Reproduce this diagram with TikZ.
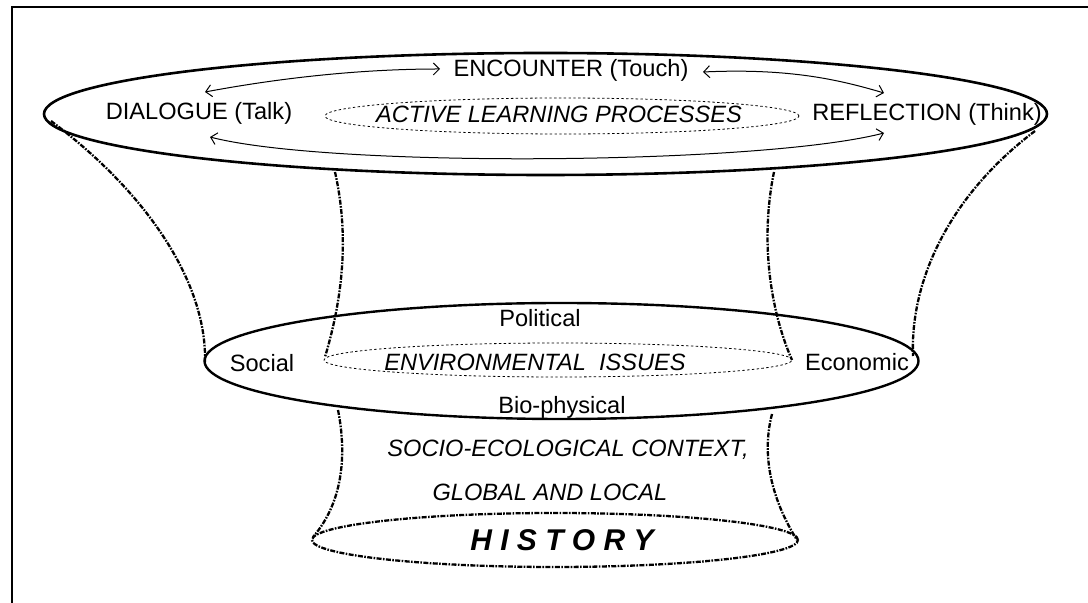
\documentclass[tikz,border=0pt]{standalone}
\usepackage{fontspec}
\setmainfont{Liberation Sans}
\usetikzlibrary{shapes.geometric,arrows.meta}
\begin{document}
\begin{tikzpicture}[x=0.5pt,y=-0.5pt,
  lbl/.style={inner sep=0pt,font=\fontsize{11.8pt}{14pt}\selectfont},
  ital/.style={inner sep=0pt,font=\fontsize{11.8pt}{14pt}\selectfont\itshape},
  solidell/.style={ellipse,draw,line width=1.3pt,inner sep=0pt},
  dotell/.style={ellipse,draw,line width=0.4pt,dash pattern=on 1.2pt off 1.2pt,inner sep=0pt},
  funnel/.style={line width=1.15pt,dash pattern=on 2.5pt off 0.7pt on 0.8pt off 0.7pt},
  histell/.style={ellipse,draw,line width=1.15pt,dash pattern=on 2.5pt off 0.7pt on 0.8pt off 0.7pt,inner sep=0pt},
  biarrow/.style={line width=0.5pt,{Straight Barb[length=3pt,width=6pt]}-{Straight Barb[length=3pt,width=6pt]}},
  framestyle/.style={line width=1pt}
]
\useasboundingbox (0,0) rectangle (1088,603);

% frame
\coordinate (fTL) at (12,7);
\coordinate (fTR) at (1088,7);
\coordinate (fBL) at (12,603);
\draw[framestyle] (fTR) -- (fTL) -- (fBL);

% ellipses
\node[solidell,minimum width=501.5pt,minimum height=61pt] (topE) at (545.5,114) {};
\node[dotell,minimum width=237pt,minimum height=18pt] (topIn) at (562,116) {};
\node[solidell,line width=1.2pt,minimum width=357pt,minimum height=58pt] (midE) at (561.5,361) {};
\node[dotell,minimum width=234pt,minimum height=17pt] (midIn) at (558,360) {};
\node[histell,minimum width=243pt,minimum height=27pt] (histE) at (555,540) {};

% funnel end points
\coordinate (lo1) at (51,121);
\coordinate (lo2) at (205,362);
\coordinate (il1) at (335,172);
\coordinate (il2) at (325,357);
\coordinate (il3) at (338,410);
\coordinate (il4) at (313,537);
\coordinate (ir1) at (774,172);
\coordinate (ir2) at (792,360);
\coordinate (ir3) at (772,414);
\coordinate (ir4) at (797,540);
\coordinate (ro1) at (1035,131);
\coordinate (ro2) at (913,356);

\draw[funnel] (lo1) .. controls (150,195) and (207,285) .. (lo2);
\draw[funnel] (il1) .. controls (348,230) and (345,290) .. (il2);
\draw[funnel] (il3) .. controls (346,450) and (345,500) .. (il4);
\draw[funnel] (ir1) .. controls (760,240) and (770,310) .. (ir2);
\draw[funnel] (ir3) .. controls (760,460) and (775,505) .. (ir4);
\draw[funnel] (ro1) .. controls (950,195) and (910,280) .. (ro2);

% labels
\node[lbl] (enc) at (571,70) {ENCOUNTER (Touch)};
\node[lbl] (dia) at (199,113) {DIALOGUE (Talk)};
\node[ital] (alp) at (559,114) {ACTIVE LEARNING PROCESSES};
\node[lbl] (ref) at (927,114) {REFLECTION (Think)};
\node[lbl] (pol) at (540,318) {Political};
\node[lbl] (soc) at (262,363) {Social};
\node[ital] (env) at (535,362) {ENVIRONMENTAL\ \ ISSUES};
\node[lbl] (eco) at (857,362) {Economic};
\node[lbl] (bio) at (562,407) {Bio-physical};
\node[ital] (sec) at (568,450) {SOCIO-ECOLOGICAL CONTEXT,};
\node[ital] (gal) at (550,492) {GLOBAL AND LOCAL};
\node[inner sep=0pt,font=\fontsize{15pt}{18pt}\selectfont\bfseries\itshape] (his) at (562,540) {H I S T O R Y};

% arrows
\coordinate (a1s) at (205,92);
\coordinate (a1e) at (440,69);
\coordinate (a2s) at (703,72);
\coordinate (a2e) at (884,93);
\coordinate (a3s) at (210,137);
\coordinate (a3e) at (884,133);
\draw[biarrow] (a1s) .. controls (280,78) and (360,69) .. (a1e);
\draw[biarrow] (a2s) .. controls (790,68) and (840,80) .. (a2e);
\draw[biarrow] (a3s) .. controls (330,168) and (760,165) .. (a3e);
\end{tikzpicture}
\end{document}
